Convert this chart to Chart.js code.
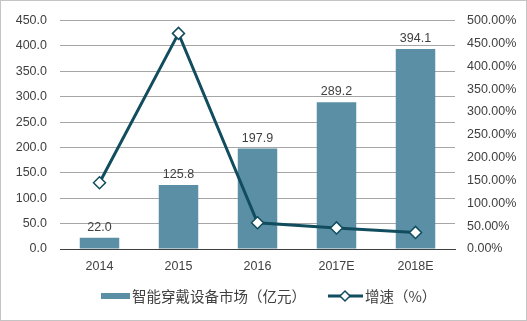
<!DOCTYPE html>
<html>
<head>
<meta charset="utf-8">
<script src="https://cdn.jsdelivr.net/npm/chart.js@4/dist/chart.umd.min.js"></script>
<style>
	html, body { margin: 0; padding: 0; background: #fff; }
	#wrap { width: 527px; height: 321px; position: relative; }
</style>
</head>
<body>
<div id="wrap"><canvas id="c" width="527" height="321"></canvas></div>
<script>
'use strict';

// data
var years = ['2014', '2015', '2016', '2017E', '2018E'];
var marketSize = [22.0, 125.8, 197.9, 289.2, 394.1];
var growthRate = [145, 471.8, 57.3, 46.1, 36.3];
var legendNames = ['智能穿戴设备市场（亿元）', '增速（%）'];

var BAR_COLOR = '#5b8fa5',
	LINE_COLOR = '#114d5e',
	TEXT_COLOR = '#404040',
	FONT = '"Liberation Sans", Arial, "Noto Sans CJK SC", sans-serif',
	CJK_FONT = '"Noto Sans CJK SC", "Liberation Sans", sans-serif';

Chart.defaults.font.family = FONT;
Chart.defaults.color = TEXT_COLOR;

// value labels above the bars
var barLabels = {
	id: 'barLabels',
	afterDatasetsDraw: function (chart) {
		var ctx = chart.ctx,
			meta = chart.getDatasetMeta(1);
		ctx.save();
		ctx.font = '12.5px ' + FONT;
		ctx.fillStyle = TEXT_COLOR;
		ctx.textAlign = 'center';
		ctx.textBaseline = 'bottom';
		meta.data.forEach(function (bar, i) {
			ctx.fillText(marketSize[i].toFixed(1), bar.x, bar.y - 4);
		});
		ctx.restore();
	}
};

// legend under the axis + thin frame round the picture
var bottomLegend = {
	id: 'bottomLegend',
	afterDraw: function (chart) {
		var ctx = chart.ctx,
			y = 296;
		ctx.save();
		ctx.font = '14.5px ' + CJK_FONT;
		ctx.textBaseline = 'middle';

		// bar swatch
		ctx.fillStyle = BAR_COLOR;
		ctx.fillRect(101, y - 3, 29, 6);
		ctx.fillStyle = TEXT_COLOR;
		ctx.fillText(legendNames[0], 132, y);

		// line swatch with diamond
		ctx.strokeStyle = LINE_COLOR;
		ctx.lineWidth = 3;
		ctx.beginPath();
		ctx.moveTo(328, y);
		ctx.lineTo(363, y);
		ctx.stroke();
		ctx.fillStyle = '#fff';
		ctx.lineWidth = 1.5;
		ctx.beginPath();
		ctx.moveTo(345, y - 5);
		ctx.lineTo(350, y);
		ctx.lineTo(345, y + 5);
		ctx.lineTo(340, y);
		ctx.closePath();
		ctx.fill();
		ctx.stroke();
		ctx.fillStyle = TEXT_COLOR;
		ctx.fillText(legendNames[1], 365, y);

		ctx.strokeStyle = '#c4c4c4';
		ctx.lineWidth = 1;
		ctx.strokeRect(0.5, 0.5, chart.width - 1, chart.height - 1);
		ctx.restore();
	}
};

new Chart(document.getElementById('c'), {
	data: {
		labels: years,
		datasets: [{
			type: 'line',
			label: legendNames[1],
			data: growthRate,
			yAxisID: 'y1',
			borderColor: LINE_COLOR,
			borderWidth: 3,
			pointStyle: 'rectRot',
			pointRadius: 6,
			pointBackgroundColor: '#fff',
			pointBorderColor: LINE_COLOR,
			pointBorderWidth: 1.5,
			tension: 0,
			order: 0
		}, {
			type: 'bar',
			label: legendNames[0],
			data: marketSize,
			yAxisID: 'y',
			backgroundColor: BAR_COLOR,
			barPercentage: 0.5,
			categoryPercentage: 1,
			order: 1
		}]
	},
	options: {
		responsive: false,
		animation: false,
		layout: { padding: { top: 18, left: 0, right: 0, bottom: 0 } },
		plugins: {
			legend: { display: false },
			tooltip: { enabled: false }
		},
		scales: {
			x: {
				offset: true,
				grid: { display: false, drawTicks: false },
				border: { display: true, color: '#404040', width: 1 },
				ticks: { padding: 10, font: { size: 12.5 }, color: TEXT_COLOR },
				afterFit: function (scale) { scale.height = 72; }
			},
			y: {
				position: 'left',
				min: 0,
				max: 450,
				ticks: {
					stepSize: 50,
					padding: 13,
					font: { size: 12.5 },
					color: TEXT_COLOR,
					callback: function (v) { return v.toFixed(1); }
				},
				grid: {
					drawTicks: false,
					color: function (c) { return c.tick.value === 0 ? '#404040' : '#a6a6a6'; }
				},
				border: { display: false },
				afterFit: function (scale) { scale.width = 60; }
			},
			y1: {
				position: 'right',
				min: 0,
				max: 500,
				ticks: {
					stepSize: 50,
					padding: 12,
					font: { size: 12.5 },
					color: TEXT_COLOR,
					callback: function (v) { return v.toFixed(2) + '%'; }
				},
				grid: { display: false, drawTicks: false },
				border: { display: false },
				afterFit: function (scale) { scale.width = 72; }
			}
		}
	},
	plugins: [barLabels, bottomLegend]
});
</script>
</body>
</html>
